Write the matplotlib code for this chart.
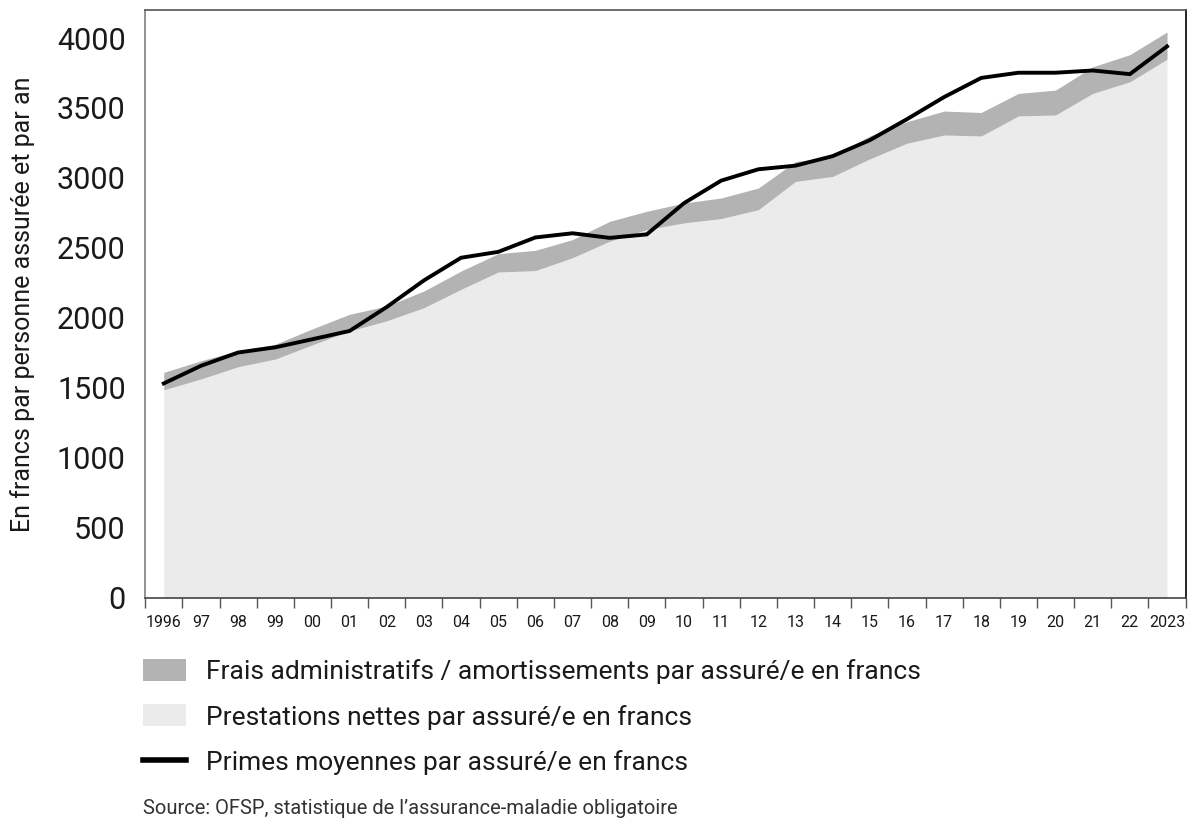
import numpy as np
import matplotlib.pyplot as plt
from matplotlib.patches import Patch
from matplotlib.lines import Line2D

# Données
annees = np.arange(1996, 2024)
prestations = [1486, 1564, 1651, 1706, 1808, 1907, 1979, 2073, 2204, 2328,
               2338, 2430, 2548, 2631, 2679, 2710, 2773, 2975, 3011, 3136,
               3248, 3307, 3300, 3443, 3450, 3604, 3687, 3848]
frais = [125, 130, 114, 106, 114, 119, 106, 119, 131, 131,
         145, 130, 142, 131, 142, 147, 155, 142, 142, 164,
         154, 171, 168, 161, 178, 190, 194, 195]
primes = [1532, 1658, 1753, 1790, 1848, 1907, 2078, 2268, 2430, 2472,
          2575, 2605, 2572, 2597, 2820, 2981, 3062, 3088, 3156, 3270,
          3420, 3578, 3715, 3752, 3752, 3768, 3742, 3940]
etiquettes = ["1996"] + [f"{a % 100:02d}" for a in annees[1:-1]] + ["2023"]

plt.rcParams['font.family'] = ['Roboto', 'DejaVu Sans']

fig = plt.figure(figsize=(12, 8.35), dpi=100)
ax = fig.add_axes([0.121, 0.284, 0.867, 0.704])

prest = np.array(prestations)
total = prest + np.array(frais)

ax.fill_between(annees, 0, prest, color="#ebebeb", lw=0)
ax.fill_between(annees, prest, total, color="#b3b3b3", lw=0)
ax.plot(annees, primes, color="black", lw=2.8, solid_joinstyle="miter")

ax.set_xlim(1995.5, 2023.5)
ax.set_ylim(0, 4200)

# axe y
ax.set_yticks(range(0, 4001, 500))
ax.tick_params(axis="y", length=0, labelsize=22, pad=14, labelcolor="#1a1a1a")
ax.set_ylabel("En francs par personne assurée et par an", fontsize=18,
              color="#1a1a1a", labelpad=16)

# axe x : étiquettes au centre, traits entre les années
ax.set_xticks(annees)
ax.set_xticklabels(etiquettes, fontsize=11.5, color="#1a1a1a")
ax.tick_params(axis="x", which="major", length=0, pad=12)
ax.set_xticks(np.arange(1995.5, 2024, 1), minor=True)
ax.tick_params(axis="x", which="minor", length=7, width=1, color="#555555",
               direction="out")

ax.spines["left"].set_color("#808080")
ax.spines["top"].set_color("#555555")
ax.spines["bottom"].set_color("#444444")
ax.spines["right"].set_color("black")
for s in ax.spines.values():
    s.set_linewidth(1.2)

# légende
poignees = [Patch(facecolor="#b3b3b3", edgecolor="none"),
            Patch(facecolor="#ebebeb", edgecolor="none"),
            Line2D([0], [0], color="black", lw=4)]
textes = ["Frais administratifs / amortissements par assuré/e en francs",
          "Prestations nettes par assuré/e en francs",
          "Primes moyennes par assuré/e en francs"]
fig.legend(poignees, textes, loc="upper left", bbox_to_anchor=(0.119, 0.211),
           frameon=False, borderpad=0, borderaxespad=0,
           handlelength=1.65, handleheight=0.9, handletextpad=0.75,
           labelspacing=0.78, labelcolor="#1a1a1a",
           prop={"size": 19})

fig.text(0.119, 0.025, "Source: OFSP, statistique de l\u2019assurance-maladie obligatoire",
         fontsize=14.5, color="#333333")

fig.savefig("out.png", dpi=100)
